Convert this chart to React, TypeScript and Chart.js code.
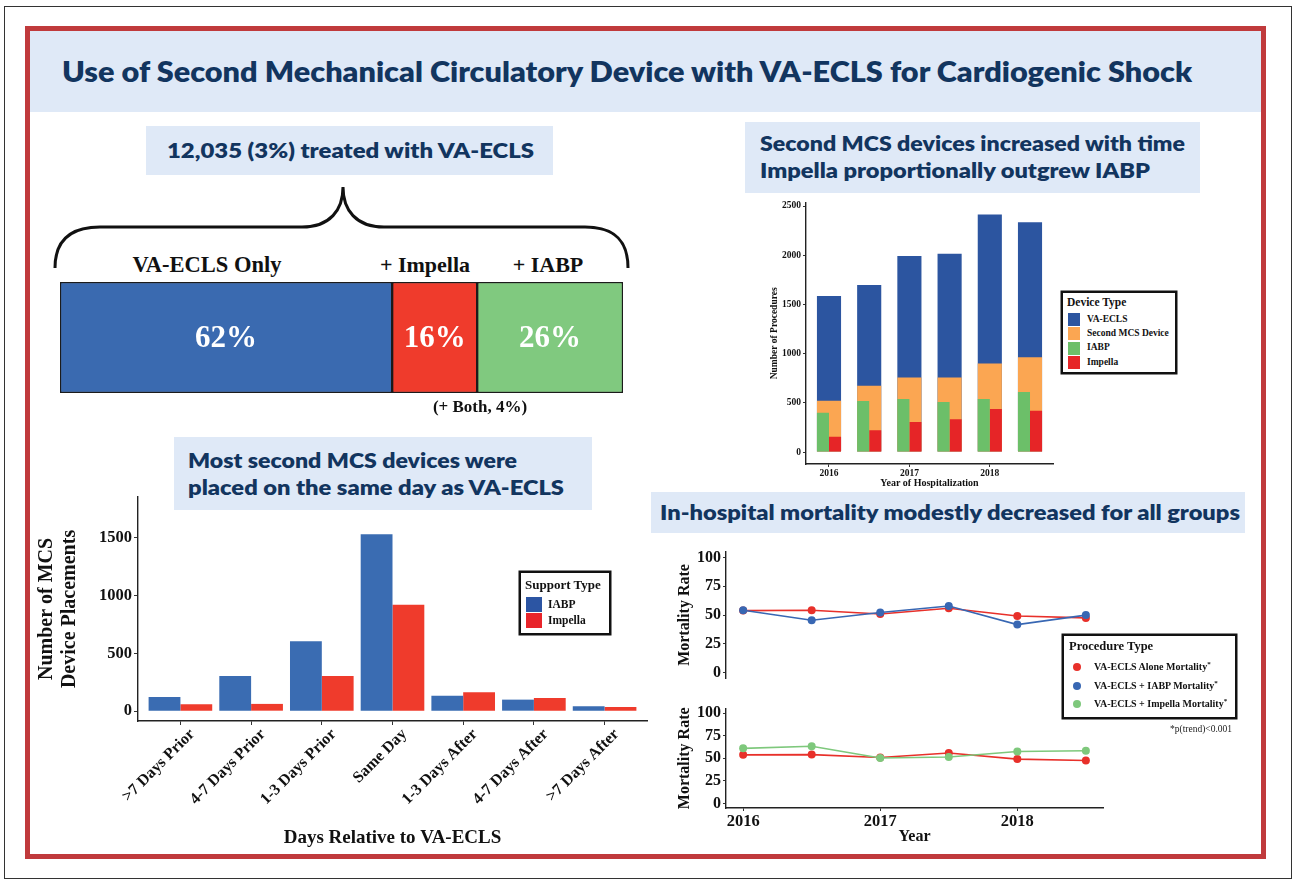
import React, { useEffect, useLayoutEffect, useRef } from 'react';
import { Chart, registerables } from 'chart.js';

Chart.register(...registerables);

// ---------------- data ----------------
const splitNames = ['VA-ECLS Only', '+ Impella', '+ IABP'];
const splitLabels = ['62%', '16%', '26%'];
const splitWidths = [59, 15.1, 25.9];

const procedureYears = [2016, 2016.5, 2017, 2017.5, 2018, 2018.5];
const yearTicks = [2016, 2017, 2018];
const vaEclsTotal = [1585, 1698, 1992, 2015, 2413, 2335];
const secondMcsTotal = [522, 674, 758, 758, 900, 964];
const iabpByYear = [401, 519, 539, 509, 539, 610];
const impellaByYear = [155, 222, 307, 334, 438, 421];
const procedureTicks = [0, 500, 1000, 1500, 2000, 2500];

const timingCategories = ['>7 Days Prior', '4-7 Days Prior', '1-3 Days Prior', 'Same Day', '1-3 Days After', '4-7 Days After', '>7 Days After'];
const timingIabp = [123, 305, 605, 1532, 134, 100, 43];
const timingImpella = [60, 63, 305, 921, 163, 114, 37];
const placementTicks = [0, 500, 1000, 1500];

const mortalityYears = [2016, 2016.5, 2017, 2017.5, 2018, 2018.5];
const mortalityAlone = [53.8, 54.1, 50.9, 55.9, 49.1, 47.5];
const mortalityIabp = [54.1, 45.4, 52.2, 57.8, 41.7, 49.9];
const mortalityImpella = [61.0, 63.4, 50.3, 51.4, 57.6, 58.3];
const mortalityTicks = [0, 25, 50, 75, 100];

// ---------------- styles ----------------
const SERIF = "'Liberation Serif', 'Times New Roman', Times, serif";
const HEAD = "Lato, 'Open Sans', sans-serif";
const NAVY = '#12355f';
const PANEL = '#dfe9f7';
const INK = '#111111';

const C = {
  splitBlue: '#3a6ab0',
  splitRed: '#ef3b2c',
  splitGreen: '#80c97f',
  vaEcls: '#2c55a0',
  second: '#fba652',
  iabp: '#6cbf69',
  impella: '#e62527',
  barBlue: '#3a6cb2',
  barRed: '#ef3b2c',
  lineRed: '#e8302a',
  lineBlue: '#3867b3',
  lineGreen: '#7ec87c',
};

const tickFont = (size: number) => ({ family: SERIF, size, weight: 'bold' as const });
const axisBorder = () => ({ display: true, color: '#222', width: 1.4 });
const tickMarks = (len: number) => ({
  display: true,
  drawOnChartArea: false,
  drawTicks: true,
  tickLength: len,
  color: '#333',
  lineWidth: 1,
});
const fixedTicks = (vals: number[]) => (scale: any) => {
  scale.ticks = vals.map((v) => ({ value: v }));
};

// ---------------- helpers ----------------
function ChartCanvas({ left, top, width, height, config }: any) {
  const ref = useRef<HTMLCanvasElement>(null);
  useEffect(() => {
    const chart = new Chart(ref.current as HTMLCanvasElement, config());
    return () => chart.destroy();
  }, []);
  return (
    <canvas
      ref={ref}
      width={width}
      height={height}
      style={{ position: 'absolute', left, top, width, height, display: 'block' }}
    />
  );
}

function FitText({ left, cy, width, size, text }: any) {
  const ref = useRef<HTMLSpanElement>(null);
  useLayoutEffect(() => {
    const fit = () => {
      const el = ref.current;
      if (!el) return;
      el.style.transform = 'none';
      const w = el.getBoundingClientRect().width;
      if (w > 0) el.style.transform = `scaleX(${width / w})`;
    };
    fit();
    (document as any).fonts?.ready?.then(fit);
  }, []);
  const h = size * 1.3;
  return (
    <span
      ref={ref}
      style={{
        position: 'absolute',
        left,
        top: cy - h / 2,
        height: h,
        lineHeight: h + 'px',
        fontSize: size,
        fontFamily: HEAD,
        fontWeight: 800,
        color: NAVY,
        whiteSpace: 'nowrap',
        transformOrigin: 'left center',
      }}
    >
      {text}
    </span>
  );
}

function Label({ x, cy, size, children, align = 'left', weight = 'bold', color = INK }: any) {
  const h = size * 1.4;
  const style: any = {
    position: 'absolute',
    left: x,
    top: cy - h / 2,
    height: h,
    lineHeight: h + 'px',
    fontSize: size,
    fontFamily: SERIF,
    fontWeight: weight,
    color,
    whiteSpace: 'nowrap',
  };
  if (align === 'center') style.transform = 'translateX(-50%)';
  return <div style={style}>{children}</div>;
}

function Box({ left, top, width, height, style }: any) {
  return <div style={{ position: 'absolute', left, top, width, height, boxSizing: 'border-box', ...style }} />;
}

// ---------------- chart configs ----------------
const splitLabelPlugin = {
  id: 'splitLabels',
  afterDatasetsDraw(chart: any) {
    const ctx = chart.ctx;
    ctx.save();
    ctx.fillStyle = '#ffffff';
    ctx.font = `bold 31px ${SERIF}`;
    ctx.textAlign = 'center';
    ctx.textBaseline = 'middle';
    chart.data.datasets.forEach((_ds: any, i: number) => {
      const el: any = chart.getDatasetMeta(i).data[0];
      const { x, base, y } = el.getProps(['x', 'base', 'y'], true);
      ctx.fillText(splitLabels[i], (x + base) / 2, y + 1);
    });
    ctx.restore();
  },
};

const splitConfig = () => ({
  type: 'bar',
  data: {
    labels: ['VA-ECLS'],
    datasets: splitWidths.map((v, i) => ({
      label: splitNames[i],
      data: [v],
      backgroundColor: [C.splitBlue, C.splitRed, C.splitGreen][i],
      borderColor: '#1b1b1b',
      borderWidth: 1.5,
      borderSkipped: false,
      barPercentage: 1,
      categoryPercentage: 1,
    })),
  },
  options: {
    indexAxis: 'y',
    animation: false,
    responsive: false,
    devicePixelRatio: 1,
    events: [],
    layout: { padding: 4 },
    plugins: { legend: { display: false }, tooltip: { enabled: false } },
    scales: {
      x: { stacked: true, min: 0, max: 100, display: false },
      y: { stacked: true, display: false },
    },
  },
  plugins: [splitLabelPlugin],
});

const procedureConfig = () => {
  const pts = (arr: number[]) => procedureYears.map((x, i) => ({ x, y: arr[i] }));
  const common = { barPercentage: 1, categoryPercentage: 0.6, borderWidth: 0 };
  return {
    type: 'bar',
    data: {
      datasets: [
        { label: 'IABP', data: pts(iabpByYear), backgroundColor: C.iabp, stack: 'iabp', ...common },
        { label: 'Impella', data: pts(impellaByYear), backgroundColor: C.impella, stack: 'impella', ...common },
        { label: 'Second MCS Device', data: pts(secondMcsTotal), backgroundColor: C.second, grouped: false, ...common },
        { label: 'VA-ECLS', data: pts(vaEclsTotal), backgroundColor: C.vaEcls, grouped: false, ...common },
      ],
    },
    options: {
      animation: false,
      responsive: false,
      devicePixelRatio: 1,
      events: [],
      layout: { padding: { top: 7, right: 7, left: 0, bottom: 0 } },
      plugins: { legend: { display: false }, tooltip: { enabled: false } },
      scales: {
        x: {
          type: 'linear',
          offset: false,
          stacked: false,
          min: 2015.714,
          max: 2018.786,
          afterBuildTicks: fixedTicks(yearTicks),
          afterFit: (s: any) => { s.height = 31; },
          grid: { ...tickMarks(3), offset: false },
          border: axisBorder(),
          ticks: { color: INK, font: tickFont(9.5), padding: 1, maxRotation: 0, autoSkip: false, callback: (v: any) => String(v) },
          title: { display: true, text: 'Year of Hospitalization', color: INK, font: tickFont(10), padding: { top: 0, bottom: 6 } },
        },
        y: {
          stacked: false,
          min: -121,
          max: 2534,
          afterBuildTicks: fixedTicks(procedureTicks),
          afterFit: (s: any) => { s.width = 66; },
          grid: tickMarks(3),
          border: axisBorder(),
          ticks: { color: INK, font: tickFont(9.5), padding: 2, callback: (v: any) => String(v) },
          title: { display: true, text: 'Number of Procedures', color: INK, font: tickFont(9.5), padding: { top: 29, bottom: 0 } },
        },
      },
    },
  };
};

const placementConfig = () => ({
  type: 'bar',
  data: {
    datasets: [
      {
        label: 'IABP',
        data: timingIabp.map((y, i) => ({ x: i, y })),
        backgroundColor: C.barBlue,
        barPercentage: 1,
        categoryPercentage: 0.9,
        borderWidth: 0,
      },
      {
        label: 'Impella',
        data: timingImpella.map((y, i) => ({ x: i, y })),
        backgroundColor: C.barRed,
        barPercentage: 1,
        categoryPercentage: 0.9,
        borderWidth: 0,
      },
    ],
  },
  options: {
    animation: false,
    responsive: false,
    devicePixelRatio: 1,
    events: [],
    layout: { padding: { top: 8, right: 8, left: 0, bottom: 0 } },
    plugins: { legend: { display: false }, tooltip: { enabled: false } },
    scales: {
      x: {
        type: 'linear',
        offset: false,
        min: -0.6,
        max: 6.6,
        afterBuildTicks: fixedTicks(timingCategories.map((_c, i) => i)),
        afterFit: (s: any) => { s.height = 129; },
        grid: { ...tickMarks(4), offset: false },
        border: axisBorder(),
        ticks: {
          color: INK,
          font: tickFont(16),
          padding: 0,
          labelOffset: 12,
          minRotation: 45,
          maxRotation: 45,
          autoSkip: false,
          callback: (v: any) => timingCategories[v],
        },
        title: { display: true, text: 'Days Relative to VA-ECLS', color: INK, font: tickFont(19), padding: { top: 0, bottom: 1 } },
      },
      y: {
        min: -85,
        max: 1855,
        afterBuildTicks: fixedTicks(placementTicks),
        afterFit: (s: any) => { s.width = 108; },
        grid: tickMarks(4),
        border: axisBorder(),
        ticks: { color: INK, font: tickFont(16.5), padding: 2, callback: (v: any) => String(v) },
        title: {
          display: true,
          text: ['Number of MCS', 'Device Placements'],
          color: INK,
          font: { family: SERIF, size: 20, weight: 'bold', lineHeight: 1.15 },
          padding: { top: 5, bottom: 0 },
        },
      },
    },
  },
});

const mortalityConfig = (series: { label: string; values: number[]; color: string }[], showX: boolean) => () => ({
  type: 'line',
  data: {
    datasets: series.map((s) => ({
      label: s.label,
      data: mortalityYears.map((x, i) => ({ x, y: s.values[i] })),
      borderColor: s.color,
      backgroundColor: s.color,
      borderWidth: 1.6,
      pointRadius: 4,
      pointBorderWidth: 0,
      pointBackgroundColor: s.color,
      tension: 0,
    })),
  },
  options: {
    animation: false,
    responsive: false,
    devicePixelRatio: 1,
    events: [],
    layout: { padding: { top: 6, right: 7, left: 0, bottom: showX ? 0 : 5 } },
    plugins: { legend: { display: false }, tooltip: { enabled: false } },
    scales: {
      x: showX
        ? {
            type: 'linear',
            min: 2015.875,
            max: 2018.625,
            afterBuildTicks: fixedTicks(yearTicks),
            afterFit: (s: any) => { s.height = 39; },
            grid: tickMarks(3),
            border: axisBorder(),
            ticks: { color: INK, font: tickFont(16.5), padding: 1, maxRotation: 0, autoSkip: false, callback: (v: any) => String(v) },
            title: { display: true, text: 'Year', color: INK, font: tickFont(16), padding: { top: 0, bottom: 1 } },
          }
        : { type: 'linear', min: 2015.875, max: 2018.625, display: false },
      y: {
        min: -5,
        max: 105,
        afterBuildTicks: fixedTicks(mortalityTicks),
        afterFit: (s: any) => { s.width = 66; },
        grid: tickMarks(3),
        border: axisBorder(),
        ticks: { color: INK, font: tickFont(16), padding: 2, callback: (v: any) => String(v) },
        title: { display: true, text: 'Mortality Rate', color: INK, font: tickFont(16), padding: { top: 15, bottom: 0 } },
      },
    },
  },
});

const mortalityTopConfig = mortalityConfig(
  [
    { label: 'VA-ECLS + IABP Mortality', values: mortalityIabp, color: C.lineBlue },
    { label: 'VA-ECLS Alone Mortality', values: mortalityAlone, color: C.lineRed },
  ],
  false
);
const mortalityBottomConfig = mortalityConfig(
  [
    { label: 'VA-ECLS + Impella Mortality', values: mortalityImpella, color: C.lineGreen },
    { label: 'VA-ECLS Alone Mortality', values: mortalityAlone, color: C.lineRed },
  ],
  true
);

// ---------------- app ----------------
export default function App() {
  const legendBox = { border: '2px solid #111', background: '#fff', boxShadow: '0 0 0 0.5px #111' };
  return (
    <div style={{ position: 'fixed', left: 0, top: 0, width: 1292, height: 879, background: '#fff', overflow: 'hidden' }}>
      {/* frames */}
      <Box left={4} top={6} width={1288} height={873} style={{ border: '1.5px solid #333' }} />
      <Box left={25} top={26} width={1241} height={833} style={{ border: '5px solid #c03a3c' }} />
      <Box left={30} top={31} width={1231} height={81} style={{ background: PANEL }} />
      <FitText left={62} cy={71} width={1130} size={28} text="Use of Second Mechanical Circulatory Device with VA-ECLS for Cardiogenic Shock" />

      {/* top-left */}
      <Box left={146} top={126} width={407} height={49} style={{ background: PANEL }} />
      <FitText left={167} cy={150} width={367} size={21} text="12,035 (3%) treated with VA-ECLS" />
      <svg width={1292} height={879} style={{ position: 'absolute', left: 0, top: 0, pointerEvents: 'none' }}>
        <path
          d="M 55 268 C 55 242, 68 227, 100 227 L 302 227 C 330 227, 343 210, 343 187 C 343 210, 356 227, 384 227 L 585 227 C 616 227, 628 242, 628 268"
          fill="none"
          stroke="#111"
          strokeWidth={3}
        />
      </svg>
      <Label x={207} cy={265} size={22.5} align="center">{splitNames[0]}</Label>
      <Label x={425} cy={265} size={22} align="center">{splitNames[1]}</Label>
      <Label x={548} cy={265} size={22} align="center">{splitNames[2]}</Label>
      <ChartCanvas left={56} top={278} width={571} height={119} config={splitConfig} />
      <Label x={480} cy={407} size={17} align="center">(+ Both, 4%)</Label>

      {/* top-right */}
      <Box left={745} top={122} width={455} height={71} style={{ background: PANEL }} />
      <FitText left={760} cy={143} width={425} size={20} text="Second MCS devices increased with time" />
      <FitText left={760} cy={170} width={390} size={20} text="Impella proportionally outgrew IABP" />
      <ChartCanvas left={740} top={195} width={320} height={300} config={procedureConfig} />
      <Box left={1061} top={291} width={116} height={83} style={legendBox} />
      <Label x={1067} cy={302} size={11.5}>Device Type</Label>
      {[
        ['VA-ECLS', C.vaEcls],
        ['Second MCS Device', C.second],
        ['IABP', C.iabp],
        ['Impella', C.impella],
      ].map(([name, col], i) => (
        <React.Fragment key={name}>
          <Box left={1068} top={313 + i * 14.3} width={12} height={13} style={{ background: col }} />
          <Label x={1087} cy={319.5 + i * 14.3} size={9.5}>{name}</Label>
        </React.Fragment>
      ))}

      {/* bottom-left */}
      <Box left={174} top={437} width={418} height={73} style={{ background: PANEL }} />
      <FitText left={188} cy={460} width={329} size={20} text="Most second MCS devices were" />
      <FitText left={188} cy={487} width={376} size={20} text="placed on the same day as VA-ECLS" />
      <ChartCanvas left={30} top={485} width={625} height={365} config={placementConfig} />
      <Box left={519} top={571} width={92} height={64} style={legendBox} />
      <Label x={525} cy={585} size={13}>Support Type</Label>
      {[
        ['IABP', '#2c55a3'],
        ['Impella', '#e8242a'],
      ].map(([name, col], i) => (
        <React.Fragment key={name}>
          <Box left={526} top={597 + i * 16} width={16} height={15} style={{ background: col }} />
          <Label x={548} cy={604.5 + i * 16} size={11.5}>{name}</Label>
        </React.Fragment>
      ))}

      {/* bottom-right */}
      <Box left={651} top={492} width={594} height={41} style={{ background: PANEL }} />
      <FitText left={660} cy={512} width={580} size={20} text="In-hospital mortality modestly decreased for all groups" />
      <ChartCanvas left={660} top={540} width={450} height={150} config={mortalityTopConfig} />
      <ChartCanvas left={660} top={697} width={450} height={150} config={mortalityBottomConfig} />
      <Box left={1062} top={634} width={175} height={85} style={legendBox} />
      <Label x={1069} cy={647} size={12.5}>Procedure Type</Label>
      {[
        ['VA-ECLS Alone Mortality', C.lineRed],
        ['VA-ECLS + IABP Mortality', C.lineBlue],
        ['VA-ECLS + Impella Mortality', C.lineGreen],
      ].map(([name, col], i) => (
        <React.Fragment key={name}>
          <Box left={1073} top={663 + i * 18.5} width={8} height={8} style={{ background: col, borderRadius: '50%' }} />
          <Label x={1094} cy={667 + i * 18.5} size={10}>
            {name}
            <sup style={{ fontSize: 7, verticalAlign: 'super', lineHeight: 0 }}>*</sup>
          </Label>
        </React.Fragment>
      ))}
      <Label x={1170} cy={730} size={9.5} weight="normal" color="#222">*p(trend)&lt;0.001</Label>
    </div>
  );
}
